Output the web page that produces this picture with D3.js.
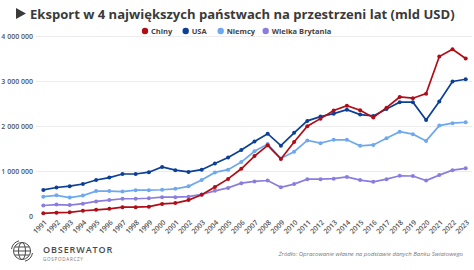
<!DOCTYPE html>
<meta charset="utf-8">
<style>
body { margin: 0; background: #fff; }
svg { font-family: "Open Sans", sans-serif; }
.grid line { stroke: #ececec; stroke-width: 1; }
.ylab { font-size: 7px; font-weight: 600; fill: #555; }
.xlab { font-size: 7px; font-weight: 600; fill: #555; }
.line { fill: none; stroke-width: 1.7; }
</style>
<body>
<div id="chart"></div>
<script src="https://cdn.jsdelivr.net/npm/d3@7"></script>
<script>

var years = d3.range(1991, 2024);

// eksport, mln USD
var chiny = [70000, 85000, 92000, 128000, 148000, 171000, 207000, 207000, 219000, 279000, 299000, 365000, 485000, 655000, 836000,
  1061000, 1342000, 1581000, 1280000, 1654000, 2006000, 2175000, 2354000, 2463000, 2362000, 2199000, 2419000, 2656000, 2629000, 2730000, 3554000, 3716000, 3511000];
var usa = [590000, 645000, 675000, 722000, 811000, 865000, 944000, 944000, 985000, 1100000, 1030000, 990000, 1040000, 1180000, 1310000,
  1480000, 1665000, 1840000, 1575000, 1860000, 2125000, 2220000, 2285000, 2375000, 2265000, 2235000, 2390000, 2540000, 2540000, 2145000, 2555000, 3000000, 3050000];
var niemcy = [440000, 470000, 420000, 465000, 565000, 565000, 555000, 585000, 585000, 595000, 615000, 670000, 810000, 980000, 1040000,
  1210000, 1450000, 1610000, 1290000, 1440000, 1690000, 1630000, 1705000, 1705000, 1570000, 1590000, 1740000, 1885000, 1830000, 1680000, 2020000, 2075000, 2095000];
var wb = [245000, 265000, 255000, 285000, 335000, 365000, 395000, 395000, 405000, 430000, 430000, 440000, 490000, 570000, 635000,
  740000, 780000, 800000, 650000, 720000, 830000, 830000, 840000, 880000, 810000, 770000, 830000, 905000, 900000, 800000, 920000, 1030000, 1070000];

var seriesNames = ["Chiny", "USA", "Niemcy", "Wielka Brytania"];
var seriesColors = ["#b00d17", "#0c3f96", "#6ea8ef", "#8a7de0"];
var yTicks = [0, 1000000, 2000000, 3000000, 4000000];

var series = [chiny, usa, niemcy, wb].map(function(vals, i) {
  return { name: seriesNames[i], color: seriesColors[i], values: vals.map(function(v, j) { return { year: years[j], v: v }; }) };
});

var W = 474, H = 270;
var svg = d3.select("#chart").append("svg").attr("width", W).attr("height", H);

var x = d3.scaleLinear().domain([1991, 2023]).range([43.3, 465.7]);
var y = d3.scaleLinear().domain([0, 4000000]).range([216.5, 36.5]);

var fmt = function(d) { return d3.format(",")(d).replace(/,/g, " "); };

// title: triangle + text fitted to 424px
svg.append("path").attr("d", "M16,8 L26,13.5 L16,19 Z").attr("fill", "#3a3a3a");
var title = svg.append("text")
  .attr("x", 30).attr("y", 19)
  .style("font-size", "15px").style("font-weight", 700).style("fill", "#3a3a3a")
  .text("Eksport w 4 największych państwach na przestrzeni lat (mld USD)");
var tw = title.node().getComputedTextLength();
title.style("font-size", (15 * 425 / tw) + "px");

// legend
var legX = [145, 185.7, 220.7, 265.7];
var leg = svg.append("g").selectAll("g").data(series).enter().append("g")
  .attr("transform", function(d, i) { return "translate(" + legX[i] + ",31)"; });
leg.append("circle").attr("r", 3.2).attr("fill", function(d) { return d.color; });
leg.append("text").attr("x", 6).attr("dy", "0.35em")
  .style("font-size", "7.5px").style("font-weight", 700).style("fill", "#444")
  .text(function(d) { return d.name; });

// grid + y labels
svg.append("g").attr("class", "grid").selectAll("line").data(yTicks.slice(1)).enter().append("line")
  .attr("x1", 36).attr("x2", 472)
  .attr("y1", function(d) { return y(d); }).attr("y2", function(d) { return y(d); });

svg.append("g").selectAll("text").data(yTicks).enter().append("text")
  .attr("class", "ylab")
  .attr("x", 33).attr("y", function(d) { return y(d); }).attr("dy", "0.35em")
  .attr("text-anchor", "end")
  .text(fmt);

// x labels
svg.append("g").selectAll("text").data(years).enter().append("text")
  .attr("class", "xlab")
  .attr("text-anchor", "end")
  .attr("transform", function(d) { return "translate(" + (x(d) + 4) + ",223) rotate(-45)"; })
  .text(function(d) { return d; });

// lines
var line = d3.line().x(function(d) { return x(d.year); }).y(function(d) { return y(d.v); });

var g = svg.append("g").selectAll("g").data(series.slice().reverse()).enter().append("g");
g.append("path").attr("class", "line")
  .attr("stroke", function(d) { return d.color; })
  .attr("d", function(d) { return line(d.values); });
g.selectAll("circle").data(function(d) { return d.values.map(function(p) { return { p: p, c: d.color }; }); })
  .enter().append("circle")
  .attr("cx", function(d) { return x(d.p.year); })
  .attr("cy", function(d) { return y(d.p.v); })
  .attr("r", 2)
  .attr("fill", function(d) { return d.c; });

// logo
var logo = svg.append("g").attr("transform", "translate(22,251)").attr("fill", "none").attr("stroke", "#4a4a4a").attr("stroke-width", 1);
logo.append("circle").attr("r", 8.5);
logo.append("ellipse").attr("rx", 3.5).attr("ry", 8.5);
logo.append("line").attr("x1", -8.5).attr("x2", 8.5);
logo.append("line").attr("x1", -7.5).attr("x2", 7.5).attr("y1", -4).attr("y2", -4);
logo.append("line").attr("x1", -7.5).attr("x2", 7.5).attr("y1", 4).attr("y2", 4);
logo.append("path").attr("d", "M-10.5,-2 A10.5,10.5 0 0 1 -3,-10.2");
logo.append("path").attr("d", "M10.5,2 A10.5,10.5 0 0 1 3,10.2");

svg.append("text").attr("x", 43).attr("y", 252.5)
  .style("font-size", "9px").style("font-weight", 600).style("letter-spacing", "0.9px").style("fill", "#4a4a4a")
  .text("OBSERWATOR");
svg.append("text").attr("x", 43).attr("y", 260.5)
  .style("font-size", "4.6px").style("letter-spacing", "0.7px").style("fill", "#777")
  .text("GOSPODARCZY");

// source
svg.append("text").attr("x", 463).attr("y", 256)
  .attr("text-anchor", "end")
  .style("font-size", "6px").style("font-style", "italic").style("fill", "#777")
  .text("Źródło: Opracowanie własne na podstawie danych Banku Światowego");

</script>
</body>
